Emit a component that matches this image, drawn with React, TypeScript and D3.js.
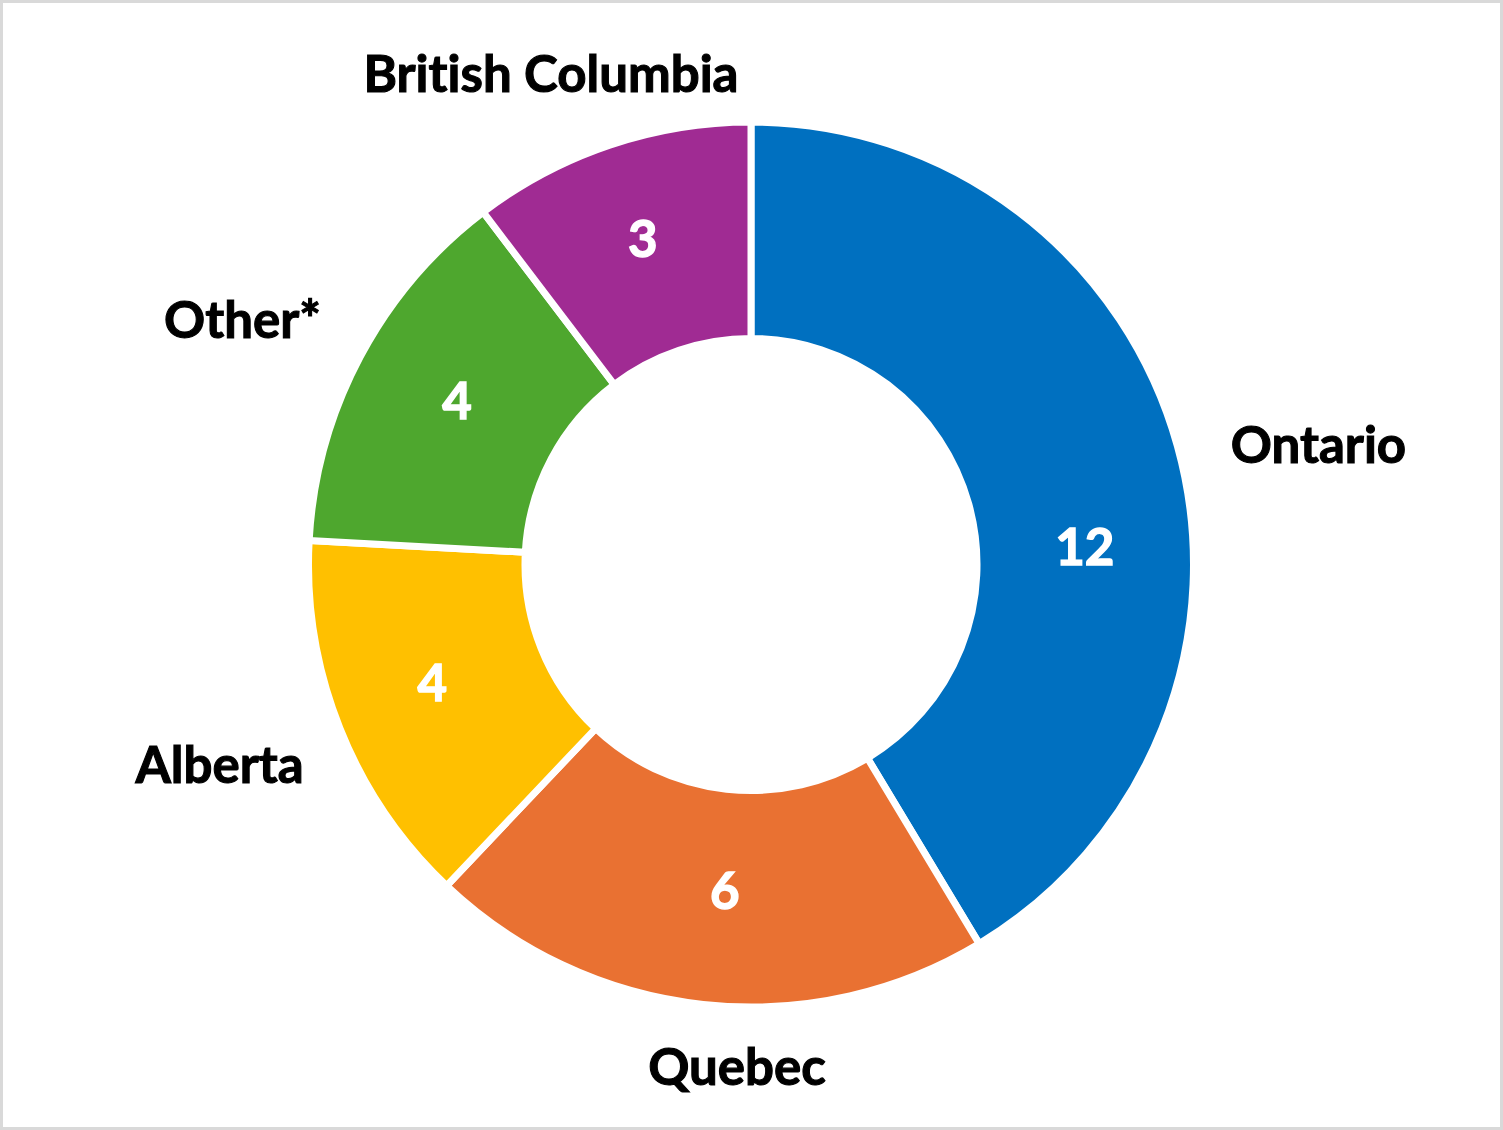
import React from "react";
import * as d3 from "d3";

const categories = ["Ontario", "Quebec", "Alberta", "Other*", "British Columbia"];
const values = [12, 6, 4, 4, 3];
const colors = ["#0070C0", "#E97132", "#FFC000", "#4EA72E", "#A02B93"];

// layout (not data)
const W = 1503;
const H = 1130;
const CX = 751;
const CY = 564.5;
const OUTER = 442.5;
const INNER = 226;
const FONT = "Lato, 'Open Sans', sans-serif";
const FS = 51;
// outside category label anchors (centre x, baseline y)
const catLabelPos: [number, number][] = [
  [1318.5, 463],
  [737, 1085],
  [219.5, 783],
  [242.5, 338],
  [551, 92],
];
// nudges applied to value labels relative to ring centroid
const valueNudge: [number, number][] = [
  [12, 71],
  [10, -5.5],
  [-8.5, -5],
  [1, -7],
  [-1.5, -9],
];

export default function App() {
  const pie = d3
    .pie<number>()
    .sort(null)
    .value((d) => d)
    .startAngle(0)
    .endAngle(2 * Math.PI);
  const arcs = pie(values);
  const arc = d3.arc<d3.PieArcDatum<number>>().innerRadius(INNER).outerRadius(OUTER);
  const midArc = d3
    .arc<d3.PieArcDatum<number>>()
    .innerRadius(229.5)
    .outerRadius(438.5);

  const textStyle: React.CSSProperties = {
    fontVariantLigatures: "none",
    fontFeatureSettings: "'liga' 0, 'dlig' 0",
  };

  return (
    <div style={{ position: "absolute", left: 0, top: 0 }}>
      <svg width={W} height={H} style={{ display: "block" }}>
        <rect x={0} y={0} width={W} height={H} fill="#ffffff" />
        <rect
          x={1.5}
          y={1.5}
          width={W - 3}
          height={H - 3}
          fill="none"
          stroke="#d9d9d9"
          strokeWidth={3}
        />
        <g transform={`translate(${CX},${CY})`}>
          {arcs.map((a, i) => (
            <path
              key={categories[i]}
              d={arc(a) || ""}
              fill={colors[i]}
              stroke="#ffffff"
              strokeWidth={7}
              strokeLinejoin="miter"
            />
          ))}
          {arcs.map((a, i) => {
            const [x, y] = midArc.centroid(a);
            return (
              <text
                key={"v" + i}
                x={x + valueNudge[i][0]}
                y={y + valueNudge[i][1]}
                dy="0.36em"
                textAnchor="middle"
                fill="#ffffff"
                stroke="#ffffff"
                strokeWidth={1.4}
                fontFamily={FONT}
                fontWeight={700}
                fontSize={FS}
                style={textStyle}
              >
                {values[i]}
              </text>
            );
          })}
        </g>
        {categories.map((c, i) => (
          <text
            key={"c" + i}
            x={catLabelPos[i][0]}
            y={catLabelPos[i][1]}
            textAnchor="middle"
            fill="#000000"
            stroke="#000000"
            strokeWidth={1.1}
            fontFamily={FONT}
            fontWeight={700}
            fontSize={FS}
            style={textStyle}
          >
            {c}
          </text>
        ))}
      </svg>
    </div>
  );
}
